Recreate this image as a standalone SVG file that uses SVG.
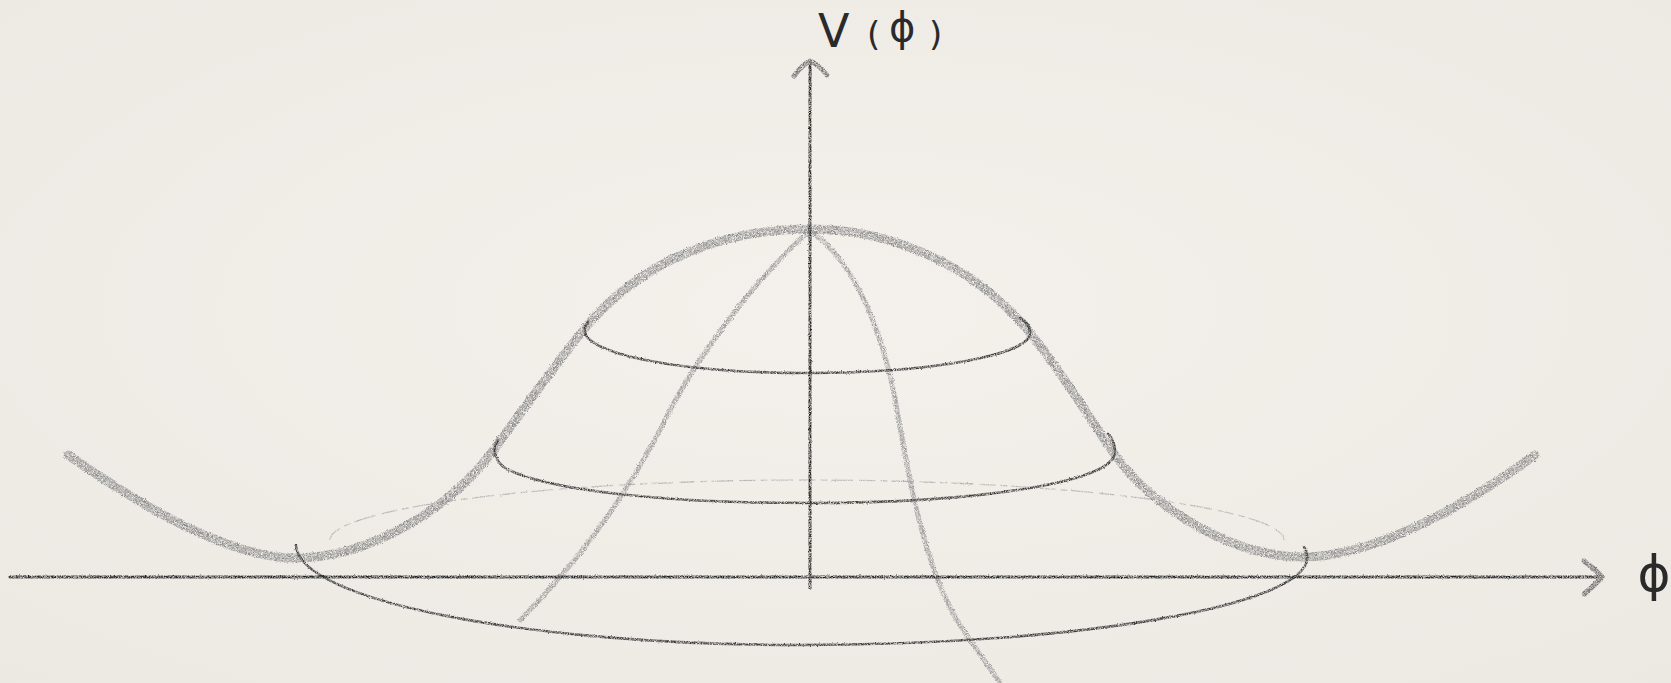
<svg xmlns="http://www.w3.org/2000/svg" width="1671" height="683" viewBox="0 0 1671 683">
  <defs>
    <radialGradient id="paper" cx="50%" cy="45%" r="75%">
      <stop offset="0" stop-color="#f4f1ec"/>
      <stop offset="1" stop-color="#ece9e3"/>
    </radialGradient>
    <filter id="pencil" filterUnits="userSpaceOnUse" x="0" y="0" width="1671" height="683">
      <feTurbulence type="fractalNoise" baseFrequency="0.85" numOctaves="2" seed="4" result="noise"/>
      <feColorMatrix in="noise" type="matrix" values="0 0 0 0 0  0 0 0 0 0  0 0 0 0 0  2.2 0 0 0 -0.45" result="grain"/>
      <feComposite in="SourceGraphic" in2="grain" operator="in" result="tex"/>
      <feDisplacementMap in="tex" in2="noise" scale="2.2" xChannelSelector="R" yChannelSelector="G"/>
    </filter>
    <filter id="soft" filterUnits="userSpaceOnUse" x="0" y="0" width="1671" height="683">
      <feTurbulence type="fractalNoise" baseFrequency="0.9" numOctaves="2" seed="9" result="noise"/>
      <feColorMatrix in="noise" type="matrix" values="0 0 0 0 0  0 0 0 0 0  0 0 0 0 0  2.6 0 0 0 -0.75" result="grain"/>
      <feComposite in="SourceGraphic" in2="grain" operator="in" result="tex"/>
      <feDisplacementMap in="tex" in2="noise" scale="3.5" xChannelSelector="R" yChannelSelector="G" result="disp"/>
      <feGaussianBlur in="disp" stdDeviation="0.7"/>
    </filter>
    <style>
      .hat { fill: none; stroke: #8e8e8e; stroke-width: 9; stroke-linecap: round; stroke-linejoin: round; }
      .meridian { fill: none; stroke: #9a9a9a; stroke-width: 5; stroke-linecap: round; }
      .ring { fill: none; stroke: #3a3a3a; stroke-width: 2.6; stroke-linecap: round; }
      .back { fill: none; stroke: #b0b0b0; stroke-width: 1.3; stroke-dasharray: 16 5 7 4 22 6; }
      .axis { fill: none; stroke: #222; stroke-width: 3; stroke-linecap: round; }
      .head { fill: none; stroke: #6f6f6f; stroke-width: 5; stroke-linecap: round; stroke-linejoin: round; }
      .label { font-family: "DejaVu Sans", "Liberation Sans", sans-serif; fill: #2a2a2a; }
      .big { font-size: 46px; }
      .paren { font-size: 34px; }
      .phi { font-size: 40px; }
      .axphi { font-size: 50px; }
    </style>
  </defs>

  <rect x="0" y="0" width="1671" height="683" fill="url(#paper)"/>

  <g id="back-ring" filter="url(#pencil)">
    <path class="back" d="M 330 540 C 330 509, 543 480, 807 480 C 1070 480, 1284 509, 1284 540"/>
  </g>

  <g id="meridians" filter="url(#soft)">
    <path class="meridian" d="M 808 232 C 760 275, 700 350, 665 420 C 630 490, 580 560, 520 620"/>
    <path class="meridian" d="M 812 232 C 858 265, 885 340, 897 410 C 909 480, 925 570, 960 625 C 975 648, 990 668, 1000 683"/>
  </g>

  <g id="hat" filter="url(#soft)">
    <path class="hat" d="M 68 455 C 140 505, 230 560, 300 558 C 370 556, 450 510, 495 448 C 530 400, 555 365, 585 328 C 640 262, 720 229, 810 229 C 890 229, 975 265, 1030 333 C 1065 376, 1090 420, 1115 455 C 1150 505, 1230 557, 1303 557 C 1370 557, 1460 510, 1535 455"/>
  </g>

  <g id="rings" filter="url(#pencil)">
    <path class="ring" d="M 588 322 C 582 328, 585 336, 590 340 C 615 360, 700 373, 808 373 C 930 373, 1030 355, 1030 333 C 1030 326, 1026 321, 1020 318"/>
    <path class="ring" d="M 498 440 C 492 448, 494 460, 505 468 C 545 490, 660 503, 810 503 C 978 503, 1115 482, 1115 452 C 1115 444, 1112 438, 1108 434"/>
    <path class="ring" d="M 296 545 C 298 600, 523 645, 800 645 C 1080 645, 1307 605, 1307 558 C 1307 553, 1306 550, 1304 547"/>
  </g>

  <g id="axes" filter="url(#pencil)">
    <path class="axis" d="M 10 577 L 1598 577"/>
    <path class="axis" d="M 810 63 L 810 588"/>
    <path class="head" d="M 1584 561 Q 1596 570, 1602 577 Q 1595 585, 1584 594"/>
    <path class="head" d="M 794 76 Q 803 64, 810 61 Q 818 64, 827 75"/>
  </g>

  <g id="labels">
    <g id="v-label">
      <text class="label big" x="818" y="47">V</text>
      <text class="label paren" x="867" y="46">(</text>
      <text class="label phi" x="889" y="41">ϕ</text>
      <text class="label paren" x="929" y="46">)</text>
    </g>
    <text id="phi-label" class="label axphi" x="1654" y="591" text-anchor="middle">ϕ</text>
  </g>
</svg>
